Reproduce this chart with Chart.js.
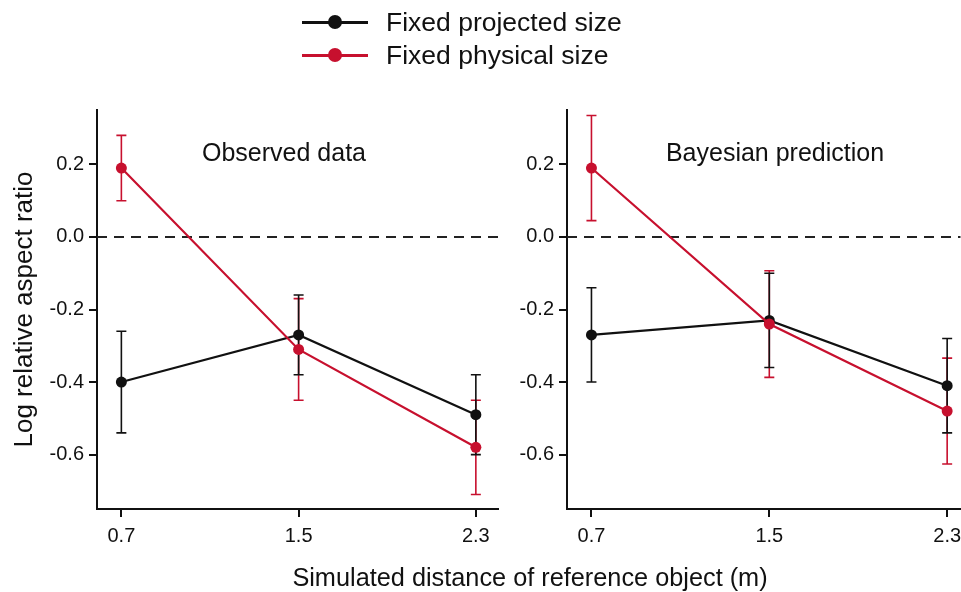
<!DOCTYPE html>
<html>
<head>
<meta charset="utf-8">
<script src="https://cdn.jsdelivr.net/npm/chart.js@4.4.1/dist/chart.umd.min.js"></script>
<style>
  body { margin: 0; background: #fff; font-family: "Liberation Sans", Arial, sans-serif; }
  #wrap { position: relative; width: 961px; height: 592px; overflow: hidden; }
  canvas { position: absolute; top: 0; }
  #left { left: 0; }
  #right { left: 470px; }
  .lg { position: absolute; left: 302px; height: 30px; display: flex; align-items: center; font-size: 26.5px; color: #111; white-space: nowrap; }
  .mk { position: relative; width: 66px; height: 30px; margin-right: 18px; }
  .mk i { position: absolute; left: 0; right: 0; top: 14px; height: 3px; }
  .mk b { position: absolute; left: 26px; top: 8px; width: 14px; height: 14px; border-radius: 50%; }
  .ptitle { position: absolute; top: 138px; font-size: 25px; transform: translateX(-50%); white-space: nowrap; color: #111; }
  #xtitle { position: absolute; top: 563px; left: 530px; font-size: 25.3px; transform: translateX(-50%); white-space: nowrap; color: #111; }
</style>
</head>
<body>
<div id="wrap">
  <canvas id="left" width="510" height="592"></canvas>
  <canvas id="right" width="496" height="592"></canvas>
  <div class="lg" id="lg0" style="top:7px"><span class="mk"><i></i><b></b></span><span class="txt"></span></div>
  <div class="lg" id="lg1" style="top:40px"><span class="mk"><i></i><b></b></span><span class="txt"></span></div>
  <div class="ptitle" style="left:284px">Observed data</div>
  <div class="ptitle" style="left:775px">Bayesian prediction</div>
  <div id="xtitle">Simulated distance of reference object (m)</div>
</div>
<script>
// distances on the x axis (m)
const distances = [0.7, 1.5, 2.3];
const yTicks = [-0.6, -0.4, -0.2, 0.0, 0.2];
const refLevel = 0;
const seriesNames = ['Fixed projected size', 'Fixed physical size'];
const seriesColors = ['#111111', '#c7102e'];

// observed data: mean and half error bar
const obsProjected = [-0.40, -0.27, -0.49];
const obsProjectedErr = [0.14, 0.11, 0.11];
const obsPhysical = [0.19, -0.31, -0.58];
const obsPhysicalErr = [0.09, 0.14, 0.13];

// bayesian prediction
const bayProjected = [-0.27, -0.23, -0.41];
const bayProjectedErr = [0.13, 0.13, 0.13];
const bayPhysical = [0.19, -0.24, -0.48];
const bayPhysicalErr = [0.145, 0.147, 0.146];

// html legend
seriesNames.forEach((name, i) => {
  const row = document.getElementById('lg' + i);
  row.querySelector('i').style.background = seriesColors[i];
  row.querySelector('b').style.background = seriesColors[i];
  row.querySelector('.txt').textContent = name;
});

const errorBars = {
  id: 'errorBars',
  beforeDatasetsDraw(chart) {
    const { ctx, scales: { x, y }, chartArea } = chart;
    // dashed reference line
    ctx.save();
    ctx.strokeStyle = '#222';
    ctx.lineWidth = 2;
    ctx.setLineDash([10, 7]);
    const y0 = y.getPixelForValue(refLevel);
    ctx.beginPath();
    ctx.moveTo(chartArea.left, y0);
    ctx.lineTo(chartArea.right, y0);
    ctx.stroke();
    ctx.restore();

    chart.data.datasets.slice().reverse().forEach(ds => {
      ctx.save();
      ctx.strokeStyle = ds.borderColor;
      ctx.lineWidth = 1.6;
      ds.data.forEach((p, i) => {
        const px = x.getPixelForValue(p.x);
        const top = y.getPixelForValue(p.y + ds.err[i]);
        const bot = y.getPixelForValue(p.y - ds.err[i]);
        ctx.beginPath();
        ctx.moveTo(px, top); ctx.lineTo(px, bot);
        ctx.moveTo(px - 5, top); ctx.lineTo(px + 5, top);
        ctx.moveTo(px - 5, bot); ctx.lineTo(px + 5, bot);
        ctx.stroke();
      });
      ctx.restore();
    });
  }
};

function makeSeries(i, vals, errs, order) {
  return {
    label: seriesNames[i],
    data: distances.map((d, k) => ({ x: d, y: vals[k] })),
    err: errs,
    borderColor: seriesColors[i],
    backgroundColor: seriesColors[i],
    borderWidth: 2.2,
    pointRadius: 5.5,
    pointBorderWidth: 0,
    order: order
  };
}

function panel(id, projected, projectedErr, physical, physicalErr, xMax, padRight, showTitle) {
  return new Chart(document.getElementById(id), {
    type: 'line',
    data: {
      datasets: [
        makeSeries(0, projected, projectedErr, 2),
        makeSeries(1, physical, physicalErr, 1)
      ]
    },
    options: {
      responsive: false,
      animation: false,
      devicePixelRatio: 1,
      layout: { padding: { top: 110, right: padRight, left: 0, bottom: 0 } },
      plugins: { legend: { display: false }, tooltip: { enabled: false } },
      scales: {
        x: {
          type: 'linear',
          min: 0.59,
          max: xMax,
          afterBuildTicks: s => { s.ticks = distances.map(v => ({ value: v })); },
          afterFit: s => { s.height = 83; s.paddingLeft = 0; s.paddingRight = 0; },
          ticks: { callback: v => v.toFixed(1), font: { size: 20, family: 'Liberation Sans' }, color: '#111', padding: 7, maxRotation: 0, autoSkip: false },
          grid: { drawOnChartArea: false, tickLength: 8, color: '#111', lineWidth: 2 },
          border: { color: '#111', width: 2 }
        },
        y: {
          min: -0.75,
          max: 0.35,
          afterBuildTicks: s => { s.ticks = yTicks.map(v => ({ value: v })); },
          afterFit: s => { s.width = 97; },
          ticks: { callback: v => v.toFixed(1), font: { size: 20, family: 'Liberation Sans' }, color: '#111', padding: 5 },
          grid: { drawOnChartArea: false, tickLength: 8, color: '#111', lineWidth: 2 },
          border: { color: '#111', width: 2 },
          title: { display: showTitle, text: 'Log relative aspect ratio', font: { size: 26, family: 'Liberation Sans' }, color: '#111', padding: { top: 9, bottom: 0 } }
        }
      }
    },
    plugins: [errorBars]
  });
}

panel('left', obsProjected, obsProjectedErr, obsPhysical, obsPhysicalErr, 2.40, 12, true);
panel('right', bayProjected, bayProjectedErr, bayPhysical, bayPhysicalErr, 2.36, 1, false);
</script>
</body>
</html>
